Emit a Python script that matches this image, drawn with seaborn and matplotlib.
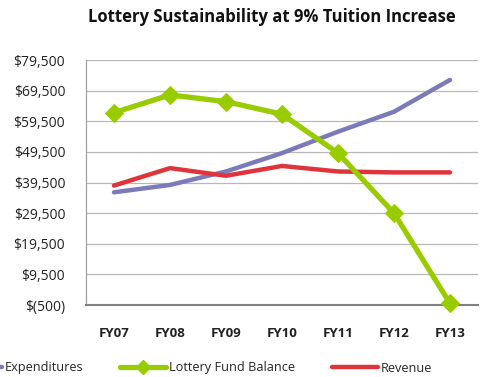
import matplotlib
matplotlib.use("Agg")
import matplotlib.pyplot as plt
import seaborn as sns
import pandas as pd
from matplotlib.ticker import FuncFormatter
from matplotlib.lines import Line2D

years = ["FY07", "FY08", "FY09", "FY10", "FY11", "FY12", "FY13"]
expenditures = [36300, 38700, 43100, 49100, 56100, 62600, 73000]
lottery_balance = [62300, 68100, 65900, 61800, 49100, 29500, 0]
revenue = [38500, 44200, 41700, 44900, 43100, 42800, 42800]
yticks = [-500, 9500, 19500, 29500, 39500, 49500, 59500, 69500, 79500]

sns.set_theme(style="white")
plt.rcParams['font.family'] = ['Open Sans', 'DejaVu Sans']

fig = plt.figure(figsize=(4.83, 3.77), dpi=100)
ax = fig.add_axes([86/483, 1-305/377, 392/483, 245/377])

x = list(range(len(years)))
df_e = pd.DataFrame({"x": x, "v": expenditures})
df_l = pd.DataFrame({"x": x, "v": lottery_balance})
df_r = pd.DataFrame({"x": x, "v": revenue})

c_e = "#7b7bb9"
c_l = "#99cc00"
c_r = "#e0343c"

sns.lineplot(data=df_e, x="x", y="v", ax=ax, color=c_e, linewidth=3.2, zorder=3)
sns.lineplot(data=df_r, x="x", y="v", ax=ax, color=c_r, linewidth=3.2, zorder=3)
sns.lineplot(data=df_l, x="x", y="v", ax=ax, color=c_l, linewidth=3.8, marker="D",
             markersize=9, markeredgecolor=c_l, zorder=4, clip_on=False)

ax.set_xlim(-0.5, 6.5)
ax.set_ylim(-500, 79500)
ax.set_yticks(yticks)

def fmt(v, pos):
    v = int(round(v))
    if v < 0:
        return "$({:,})".format(-v)
    return "${:,}".format(v)

ax.yaxis.set_major_formatter(FuncFormatter(fmt))
ax.set_xticks(x)
ax.set_xticklabels(years, fontweight="bold")
ax.tick_params(axis="x", labelsize=9.5, pad=16, length=0, colors="#222222")
ax.tick_params(axis="y", labelsize=10, pad=15, length=0, colors="#222222")
ax.grid(axis="y", color="#b8b8b8", linewidth=0.9)
ax.set_xlabel("")
ax.set_ylabel("")
for s in ["top", "right"]:
    ax.spines[s].set_visible(False)
ax.spines["left"].set_color("#a0a0a0")
ax.spines["left"].set_linewidth(0.9)
ax.spines["bottom"].set_color("#808080")
ax.spines["bottom"].set_linewidth(1.5)

fig.text(272/483, 1-17/377, "Lottery Sustainability at 9% Tuition Increase",
         ha="center", va="center", fontsize=12, fontweight="bold", color="#111111")

handles = [
    Line2D([0], [0], color=c_e, linewidth=3.2),
    Line2D([0], [0], color=c_l, linewidth=3.8, marker="D", markersize=7),
    Line2D([0], [0], color=c_r, linewidth=3.2),
]
labels = ["Expenditures", "Lottery Fund Balance", "Revenue"]
leg = fig.legend(handles, labels, loc="center left", bbox_to_anchor=(-44/483, 1-368/377), ncol=3,
                 frameon=False, fontsize=9.2, handlelength=3.6, columnspacing=2.9,
                 handletextpad=0.2, borderaxespad=0, borderpad=0)

fig.savefig("out.png", dpi=100)
